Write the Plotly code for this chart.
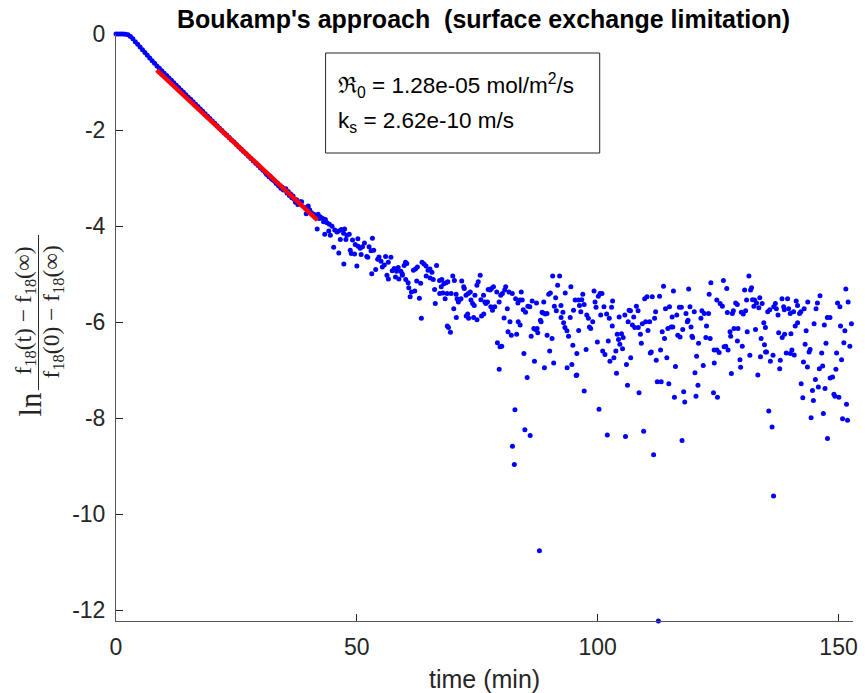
import plotly.graph_objects as go

# ---------------- data ----------------
# early part: smooth decay, time (min) and ln-ratio
seg_a_t = [0, 0.5, 1, 1.5, 2, 2.5, 3, 3.5, 4, 4.5, 5, 5.5, 6, 6.5, 7, 7.5, 8, 8.5, 9, 9.5,
           10, 10.5, 11, 11.5, 12, 12.5, 13, 13.5, 14, 14.5, 15, 15.5, 16, 16.5, 17, 17.5,
           18, 18.5, 19, 19.5, 20, 20.5, 21, 21.5, 22, 22.5, 23, 23.5, 24, 24.5, 25, 25.5,
           26, 26.5, 27, 27.5, 28, 28.5, 29, 29.5, 30, 30.5, 31,
           31.25, 31.5, 31.75, 32, 32.25, 32.5, 32.75, 33, 33.25, 33.5, 33.75, 34, 34.25,
           34.5, 34.75, 35, 35.25, 35.5, 35.75, 36, 36.25, 36.5, 36.75, 37, 37.25, 37.5,
           37.75, 38, 38.25]
seg_a_y = [0, 0, 0, 0, -0.003, -0.015, -0.05, -0.10, -0.16, -0.215, -0.27, -0.33, -0.385,
           -0.44, -0.50, -0.555, -0.61, -0.665, -0.715, -0.765, -0.815, -0.865, -0.915,
           -0.965, -1.015, -1.065, -1.115, -1.165, -1.215, -1.265, -1.315, -1.36, -1.41,
           -1.46, -1.51, -1.56, -1.61, -1.66, -1.71, -1.76, -1.81, -1.86, -1.91, -1.96,
           -2.01, -2.06, -2.105, -2.155, -2.205, -2.25, -2.30, -2.35, -2.40, -2.445, -2.495,
           -2.545, -2.59, -2.645, -2.69, -2.74, -2.79, -2.835, -2.885,
           -2.92, -2.93, -2.97, -2.96, -3.01, -3.03, -3.05, -3.07, -3.11, -3.10, -3.16,
           -3.15, -3.21, -3.19, -3.25, -3.24, -3.22, -3.31, -3.28, -3.36, -3.33, -3.41,
           -3.37, -3.44, -3.50, -3.45, -3.55, -3.52, -3.49]

# scattered part, (time, value) points
seg_b = [(38.53, -3.49), (39.22, -3.61), (39.49, -3.74), (39.90, -3.58), (40.20, -3.66),
         (40.59, -3.72), (41.07, -3.75), (41.40, -3.80), (41.76, -4.06), (41.96, -3.75),
         (42.20, -3.84), (42.44, -3.81), (42.93, -3.84), (43.10, -3.91), (43.34, -4.17),
         (43.47, -3.86), (43.80, -3.93), (44.16, -4.10), (44.30, -3.96), (44.50, -4.19),
         (44.85, -4.00), (45.19, -4.44), (45.40, -4.08), (45.88, -4.12), (46.22, -4.10),
         (46.25, -4.56), (46.57, -4.28), (46.77, -4.07), (47.25, -4.15), (47.30, -4.79),
         (47.46, -4.06), (47.73, -4.28), (47.94, -4.19), (48.42, -4.17), (48.63, -4.50),
         (48.83, -4.57), (49.11, -4.29), (49.52, -4.58), (49.66, -4.38), (50.00, -4.83),
         (50.21, -4.26), (50.25, -4.42), (50.69, -4.46), (50.89, -4.59), (51.17, -4.43),
         (51.58, -4.35), (52.06, -4.63), (52.27, -4.65), (52.54, -4.43), (52.95, -4.51),
         (53.09, -4.99), (53.23, -4.25), (53.50, -4.50), (53.91, -4.90), (54.33, -4.69),
         (54.60, -4.64), (55.01, -4.73), (55.29, -4.85), (55.70, -4.81), (55.97, -4.63),
         (56.25, -5.02), (56.52, -4.75), (56.55, -5.10), (57.07, -4.65), (57.35, -4.93),
         (57.76, -4.88), (58.03, -5.06), (58.24, -4.94), (58.58, -4.86), (58.72, -5.10),
         (59.13, -4.94), (59.41, -4.99), (59.45, -5.02), (59.82, -4.82), (60.10, -4.75),
         (60.15, -5.11), (60.37, -4.78), (60.64, -5.18), (60.78, -5.28), (61.06, -5.47),
         (61.33, -5.37), (61.74, -4.92), (62.02, -5.35), (62.16, -4.89), (62.43, -5.14),
         (62.57, -4.85), (62.98, -5.50), (63.25, -5.19), (63.39, -5.92), (63.53, -4.75),
         (63.94, -4.79), (64.35, -4.83), (64.40, -5.04), (64.77, -4.92), (65.18, -4.89),
         (65.22, -5.08), (65.59, -4.96), (65.86, -5.11), (66.14, -5.32), (66.28, -5.61),
         (66.55, -4.82)]

seg_c = [(67.16, -5.13), (67.20, -5.40), (67.51, -5.26), (67.64, -5.11), (67.85, -5.39),
         (68.06, -5.20), (68.33, -5.51), (68.54, -5.18), (68.74, -5.40), (68.78, -6.08),
         (68.88, -5.16), (69.02, -6.11), (69.43, -6.21), (69.57, -5.40), (69.91, -5.04),
         (70.12, -5.72), (70.25, -5.13), (70.60, -5.42), (70.65, -5.90), (70.80, -5.51),
         (71.08, -5.58), (71.28, -5.53), (71.63, -5.51), (71.77, -5.14), (72.18, -5.26),
         (72.31, -5.30), (72.66, -5.44), (72.70, -5.87), (73.00, -5.83), (73.14, -5.40),
         (73.20, -5.92), (73.55, -5.37), (73.69, -5.54), (74.03, -5.61), (74.24, -5.90),
         (74.37, -5.65), (74.51, -5.44), (74.92, -5.23), (74.95, -5.95), (75.20, -5.16),
         (75.61, -5.02), (75.75, -5.53), (75.89, -5.87), (76.30, -5.44), (76.35, -5.83),
         (76.57, -5.58), (76.78, -5.61), (77.12, -5.58), (77.26, -5.32), (77.67, -5.33),
         (77.81, -5.68), (77.95, -5.30), (78.15, -5.75), (78.36, -5.26), (78.63, -5.68),
         (79.05, -5.37), (79.18, -6.43), (79.53, -5.58), (79.55, -6.98), (79.73, -6.51),
         (79.87, -5.44), (80.08, -6.50), (80.21, -5.40), (80.56, -5.91), (80.69, -5.33),
         (80.90, -5.26), (81.24, -5.72), (81.38, -6.20), (81.59, -5.37), (81.79, -5.99),
         (82.07, -6.27), (82.27, -5.40), (82.30, -8.58), (82.69, -8.96), (82.82, -7.82),
         (82.96, -5.51), (83.17, -6.25), (83.44, -5.60), (83.50, -5.99), (83.85, -5.54),
         (83.90, -6.06), (84.13, -5.37), (84.33, -5.54), (84.54, -5.74), (84.68, -6.65),
         (84.88, -8.24), (85.02, -5.79), (85.36, -7.15), (85.50, -5.67), (85.91, -5.68),
         (85.98, -8.36), (86.19, -6.29), (86.39, -5.56), (86.74, -6.13), (86.87, -6.81),
         (87.08, -6.15), (87.29, -5.60), (87.42, -6.13), (87.56, -6.22), (87.90, -10.76),
         (88.11, -5.96), (88.25, -5.99), (88.45, -5.79), (88.66, -5.81), (88.80, -5.58),
         (88.94, -6.95), (89.14, -5.83), (89.48, -5.82), (89.50, -6.27), (89.83, -5.42),
         (90.03, -6.60), (90.17, -5.39), (90.52, -6.34), (90.65, -5.04), (90.86, -6.85),
         (91.00, -5.67), (91.27, -5.49), (91.41, -5.76), (91.68, -5.23), (92.09, -5.04),
         (92.37, -5.65), (92.40, -5.90), (92.78, -5.79), (92.92, -6.01), (93.19, -6.11),
         (93.26, -5.39), (93.61, -6.18), (93.65, -6.95), (93.95, -6.29), (94.29, -5.90),
         (94.43, -5.26), (94.63, -6.88), (94.84, -6.48), (94.98, -5.75), (95.32, -5.54),
         (95.53, -7.11), (95.67, -6.65)]

seg_d = [(95.67, -7.10), (96.01, -5.54), (96.05, -6.17), (96.22, -5.65), (96.49, -5.78),
         (96.70, -5.53), (96.91, -5.42), (97.18, -5.63), (97.20, -7.43), (97.59, -6.57),
         (97.73, -5.85), (98.07, -5.92), (98.28, -6.10), (98.55, -6.13), (98.97, -5.99),
         (99.24, -5.35), (99.45, -5.58), (99.65, -5.69), (99.93, -6.41), (100.13, -5.46),
         (100.27, -7.81), (100.48, -5.40), (100.62, -5.85), (100.89, -5.40), (101.03, -6.60),
         (101.30, -5.68), (101.51, -6.67), (101.85, -5.83), (101.99, -8.35), (102.19, -6.39),
         (102.40, -5.92), (102.54, -6.81), (102.88, -5.69), (103.02, -6.08), (103.09, -5.56),
         (103.36, -6.74), (103.77, -6.60), (103.91, -7.06), (104.05, -6.25), (104.32, -6.36),
         (104.46, -5.89), (104.60, -6.46), (104.94, -6.24), (105.15, -6.55), (105.29, -6.32),
         (105.63, -5.85), (105.77, -8.38), (105.97, -6.88), (106.18, -7.31), (106.32, -5.99),
         (106.52, -5.75), (106.80, -5.76), (106.85, -6.74), (107.21, -6.06), (107.48, -5.89),
         (107.69, -6.11), (108.03, -5.67), (108.38, -5.76), (108.42, -6.11), (108.58, -7.47),
         (108.86, -6.25), (109.06, -6.44), (109.27, -6.03), (109.54, -8.27), (109.75, -5.51),
         (109.96, -5.99), (110.23, -5.47), (110.44, -6.17), (110.78, -5.99), (110.92, -6.64),
         (111.12, -6.62), (111.33, -5.47), (111.60, -8.76), (111.81, -5.92), (112.02, -5.78),
         (112.15, -6.79), (112.36, -7.24), (112.60, -12.22), (112.84, -5.46), (113.05, -6.58),
         (113.18, -7.24), (113.39, -6.20), (113.66, -5.25), (113.87, -6.34), (114.08, -5.72),
         (114.35, -6.74), (114.56, -6.13), (114.76, -7.28), (114.90, -5.68), (115.24, -6.10),
         (115.45, -5.89), (115.59, -6.10), (115.72, -5.35), (115.93, -7.56), (116.14, -6.92),
         (116.41, -5.85), (116.62, -6.27), (116.96, -5.69), (117.10, -6.31), (117.37, -5.69),
         (117.51, -8.46), (117.65, -6.15), (117.85, -7.45), (118.06, -7.66), (118.33, -5.82),
         (118.61, -5.99), (118.75, -5.96), (118.88, -5.31), (119.16, -5.68), (119.37, -6.10),
         (119.57, -6.29), (119.71, -6.32), (120.05, -5.78), (120.19, -7.05), (120.40, -7.54),
         (120.53, -6.71), (120.81, -7.31), (120.94, -6.44), (121.43, -5.92), (121.63, -5.76),
         (121.91, -6.90), (122.11, -5.82), (122.46, -6.32), (122.59, -6.08), (123.01, -5.82),
         (123.14, -5.42), (123.35, -6.34), (123.49, -5.18)]

seg_e = [(124.04, -7.47), (124.18, -6.58), (124.20, -6.85), (124.73, -5.54), (124.75, -6.58),
         (124.86, -7.56), (125.21, -6.63), (125.41, -5.61), (125.89, -5.67), (126.10, -5.13),
         (126.24, -6.51), (126.58, -6.50), (126.79, -5.30), (126.92, -5.80), (127.06, -6.58),
         (127.47, -6.20), (127.61, -6.29), (127.75, -7.07), (127.95, -5.82), (128.16, -5.76),
         (128.30, -6.13), (128.64, -5.60), (128.98, -5.63), (129.00, -6.39), (129.12, -6.13),
         (129.53, -6.78), (129.67, -6.94), (129.81, -5.79), (130.01, -6.50), (130.22, -5.83),
         (130.50, -5.33), (130.70, -5.76), (130.91, -5.54), (131.04, -6.20), (131.39, -5.04),
         (131.59, -6.69), (131.73, -5.33), (131.94, -5.28), (132.14, -5.53), (132.42, -5.67),
         (132.56, -5.54), (132.76, -6.15), (132.97, -5.60), (133.24, -7.10), (133.45, -5.70),
         (133.65, -5.49), (133.79, -6.72), (133.93, -6.34), (134.14, -5.61), (134.48, -6.01),
         (134.62, -6.47), (134.82, -6.11), (134.85, -6.62), (135.05, -6.62), (135.30, -5.78),
         (135.51, -7.85), (135.72, -5.74), (135.85, -6.81), (136.20, -8.18), (136.40, -6.69),
         (136.50, -9.62), (136.54, -5.68), (136.88, -5.61), (137.09, -5.72), (137.43, -5.85),
         (137.57, -6.22), (137.78, -6.97), (137.91, -6.79), (138.26, -5.51), (138.30, -6.32),
         (138.60, -5.68), (138.74, -5.74), (138.80, -6.25), (139.15, -6.64), (139.42, -5.51),
         (139.63, -5.72), (139.97, -5.82), (140.00, -6.65), (140.11, -6.24), (140.32, -6.58),
         (140.66, -5.78), (140.80, -6.68), (141.00, -6.08), (141.21, -5.56), (141.48, -5.65),
         (141.50, -6.01), (141.90, -5.82), (142.17, -5.78), (142.24, -7.28), (142.58, -7.57),
         (142.72, -6.83), (142.86, -5.72), (143.06, -6.46), (143.27, -6.18), (143.54, -6.93),
         (143.61, -5.58), (143.89, -6.62), (144.09, -6.57), (144.30, -7.99), (144.58, -7.42),
         (144.78, -7.63), (144.92, -6.03), (145.19, -7.19), (145.33, -5.72), (145.61, -5.60),
         (145.81, -7.35), (146.02, -6.97), (146.15, -5.45), (146.50, -6.64), (146.70, -6.91),
         (146.84, -7.90), (147.05, -6.06), (147.19, -7.38), (147.39, -6.44), (147.67, -5.90),
         (147.70, -8.42), (148.22, -5.90), (148.25, -7.16), (148.76, -7.14), (149.04, -7.50),
         (149.25, -7.54), (149.45, -6.98), (149.59, -6.64), (149.79, -5.60), (150.07, -7.56),
         (150.28, -5.68), (150.41, -6.08), (150.62, -6.78), (150.83, -8.01), (151.10, -6.43),
         (151.31, -6.18), (151.51, -5.31), (151.65, -7.71), (151.86, -8.04), (151.99, -5.58),
         (152.34, -6.50), (152.68, -6.03), (153.02, -7.29)]

# linear fit (red line) end points
fit_t = [8.45, 41.8]
fit_y = [-0.75, -3.875]

x_tickvals = [0, 50, 100, 150]
y_tickvals = [0, -2, -4, -6, -8, -10, -12]
y_ticktext = ["0", "-2", "-4", "-6", "-8", "-10", "-12"]

title_text = "<b>Boukamp's approach\u00a0 (surface exchange limitation)</b>"
xlabel_text = "time (min)"
box_line1 = "\u211c<sub>0</sub> = 1.28e-05 mol/m<sup>2</sup>/s"
box_line2 = "k<sub>s</sub> = 2.62e-10 m/s"

# ---------------- build ----------------
scatter_pts = seg_b + seg_c + seg_d + seg_e
t_all = seg_a_t + [p[0] for p in scatter_pts]
y_all = seg_a_y + [p[1] for p in scatter_pts]

AX = "#262626"
SANS = "Liberation Sans, Arial, Helvetica, sans-serif"
SERIF = "Liberation Serif, Times New Roman, serif"

fig = go.Figure()
fig.add_trace(go.Scatter(x=t_all, y=y_all, mode="markers",
                         marker=dict(color="#0000FF", size=5, line=dict(width=0)),
                         cliponaxis=False, hoverinfo="skip"))
fig.add_trace(go.Scatter(x=fit_t, y=fit_y, mode="lines",
                         line=dict(color="#FF0000", width=4.5), hoverinfo="skip"))

L, R, T, B = 116, 7, 34, 72
W, H = 865, 693
pw, ph = W - L - R, H - T - B


def px(xp):
    return (xp - L) / pw


def py(yp):
    return (H - B - yp) / ph


fig.update_layout(
    width=W, height=H,
    margin=dict(l=L, r=R, t=T, b=B),
    paper_bgcolor="white", plot_bgcolor="white",
    showlegend=False,
    xaxis=dict(range=[0, 153.0], tickvals=x_tickvals, ticks="inside", ticklen=7,
               tickwidth=1, tickcolor=AX, showline=True, linecolor="#555555", linewidth=1,
               showgrid=False, zeroline=False, ticklabelstandoff=5,
               tickfont=dict(family=SANS, size=23, color=AX)),
    yaxis=dict(range=[-12.22, 0], tickvals=y_tickvals, ticktext=y_ticktext,
               ticks="inside", ticklen=7, tickwidth=1, tickcolor=AX, showline=True,
               linecolor="#555555", linewidth=1, showgrid=False, zeroline=False,
               ticklabelstandoff=5,
               tickfont=dict(family=SANS, size=23, color=AX)),
)

ann = []
ann.append(dict(text=title_text, xref="paper", yref="paper", x=px(486), y=py(19),
                xanchor="center", yanchor="middle", showarrow=False,
                font=dict(family=SANS, size=25, color="black")))
ann.append(dict(text=xlabel_text, xref="paper", yref="paper", x=px(487), y=py(679),
                xanchor="center", yanchor="middle", showarrow=False,
                font=dict(family=SANS, size=25, color=AX)))
ann.append(dict(text=box_line1, xref="paper", yref="paper", x=px(337), y=py(86),
                xanchor="left", yanchor="middle", showarrow=False, align="left",
                font=dict(family=SANS, size=22.5, color="black")))
ann.append(dict(text=box_line2, xref="paper", yref="paper", x=px(337), y=py(122),
                xanchor="left", yanchor="middle", showarrow=False, align="left",
                font=dict(family=SANS, size=22.5, color="black")))
# y label: ln( numerator / denominator ), rotated
ann.append(dict(text="ln", xref="paper", yref="paper", x=px(29), y=py(404),
                xanchor="center", yanchor="middle", showarrow=False, textangle=-90,
                font=dict(family=SERIF, size=31, color=AX)))
ann.append(dict(text="f<sub>18</sub>(t) \u2212 f<sub>18</sub>(\u221e)", xref="paper", yref="paper",
                x=px(24), y=py(311), xanchor="center", yanchor="middle", showarrow=False,
                textangle=-90, font=dict(family=SERIF, size=23.5, color=AX)))
ann.append(dict(text="f<sub>18</sub>(0) \u2212 f<sub>18</sub>(\u221e)", xref="paper", yref="paper",
                x=px(53), y=py(312), xanchor="center", yanchor="middle", showarrow=False,
                textangle=-90, font=dict(family=SERIF, size=23.5, color=AX)))
fig.update_layout(annotations=ann)

fig.add_shape(type="line", xref="paper", yref="paper", x0=px(38), x1=px(38),
              y0=py(390), y1=py(235), line=dict(color=AX, width=1))
fig.add_shape(type="rect", xref="paper", yref="paper", x0=px(327), x1=px(603),
              y0=py(153), y1=py(53), line=dict(color=AX, width=1), fillcolor="rgba(0,0,0,0)")

fig.write_html("out.html")
